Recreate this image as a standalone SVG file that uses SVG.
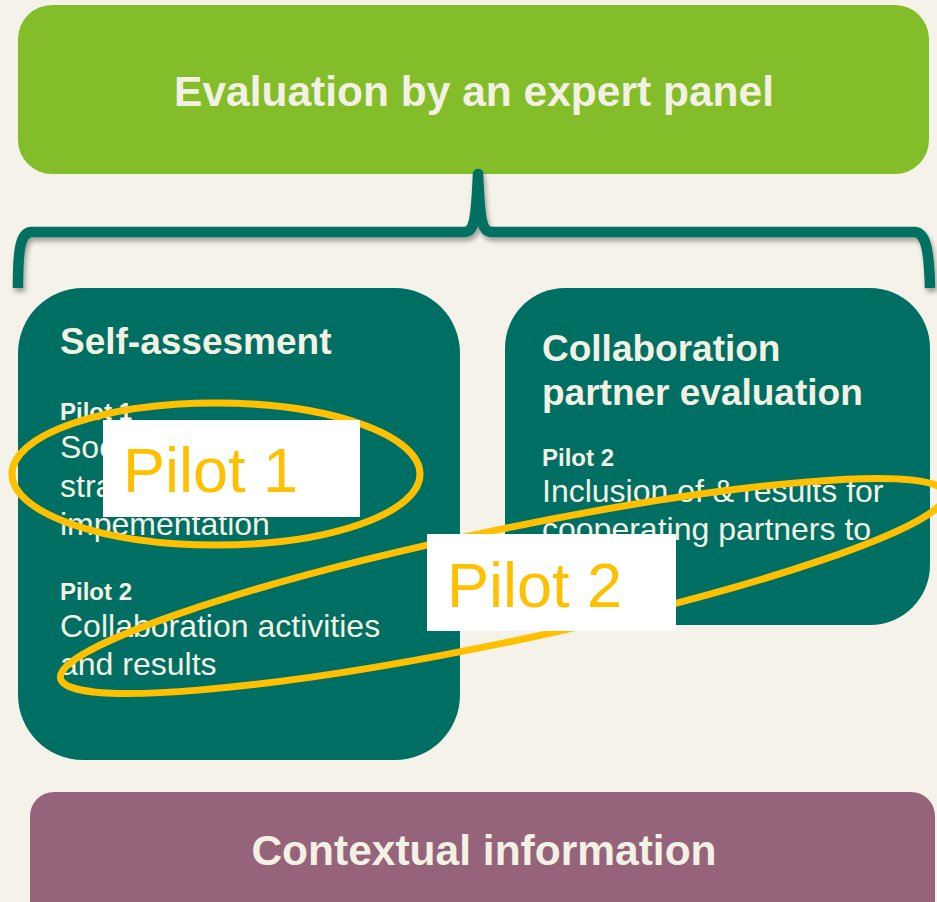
<svg xmlns="http://www.w3.org/2000/svg" width="937" height="902" viewBox="0 0 937 902">
<defs>
<style>
.t{font-family:"Liberation Sans",Arial,sans-serif;fill:#F3F1E4}
.b{font-weight:bold}
.teal{fill:#006F63}
.hl{fill:none;stroke:#FFC000;stroke-width:7}
.lbl{font-family:"Liberation Sans",Arial,sans-serif;fill:#FFC000;font-size:63px}
</style>
<filter id="sh" x="-5%" y="-20%" width="110%" height="160%">
<feDropShadow dx="2" dy="4" stdDeviation="2.5" flood-color="#000" flood-opacity="0.35"/>
</filter>
</defs>
<rect x="0" y="0" width="937" height="902" fill="#F5F3E9"/>

<g id="expert-panel">
<rect x="18" y="5" width="911" height="169" rx="34" ry="34" fill="#84BD2A"/>
<text class="t b" x="474" y="106" font-size="42.5" text-anchor="middle">Evaluation by an expert panel</text>
</g>

<g id="connectors">
<path d="M18,288 C18,250 20,232 32,232 L464,232 C474,232 476,222 478,174 C480,222 482,232 492,232 L914,232 C926,232 929,250 930,288" fill="none" stroke="#006F63" stroke-width="10.5" stroke-linejoin="round" filter="url(#sh)"/>
</g>

<g id="self-assessment">
<rect class="teal" x="18" y="288" width="442" height="472" rx="65" ry="65"/>
<text class="t b" x="60" y="354" font-size="37">Self-assesment</text>
<text class="t b" x="60" y="420" font-size="24">Pilot 1</text>
<text class="t" x="60" y="458" font-size="32">Soc</text>
<text class="t" x="60" y="497" font-size="32">stra</text>
<text class="t" x="60" y="535" font-size="32">impementation</text>
<text class="t b" x="60" y="600" font-size="24">Pilot 2</text>
<text class="t" x="60" y="637" font-size="32">Collaboration activities</text>
<text class="t" x="60" y="675" font-size="32">and results</text>
</g>

<g id="partner-evaluation">
<rect class="teal" x="505" y="288" width="425" height="337" rx="60" ry="60"/>
<text class="t b" x="542" y="361" font-size="37">Collaboration</text>
<text class="t b" x="542" y="405" font-size="37">partner evaluation</text>
<text class="t b" x="542" y="466" font-size="24">Pilot 2</text>
<text class="t" x="542" y="502" font-size="32">Inclusion of &amp; results for</text>
<text class="t" x="542" y="540" font-size="32">cooperating partners to</text>
</g>

<g id="pilot1-highlight">
<ellipse class="hl" cx="216" cy="474" rx="204" ry="71"/>
<rect x="103" y="420" width="257" height="97" fill="#FFFFFF"/>
<text class="lbl" x="123" y="492">Pilot 1</text>
</g>

<g id="pilot2-highlight">
<ellipse class="hl" cx="0" cy="0" rx="452" ry="56" transform="translate(503,586) rotate(-11.8)"/>
<rect x="427" y="534" width="249" height="97" fill="#FFFFFF"/>
<text class="lbl" x="447" y="607">Pilot 2</text>
</g>

<g id="contextual-information">
<rect x="30" y="792" width="905" height="140" rx="24" ry="24" fill="#95647B"/>
<text class="t b" x="484" y="865" font-size="42.5" text-anchor="middle">Contextual information</text>
</g>
</svg>
